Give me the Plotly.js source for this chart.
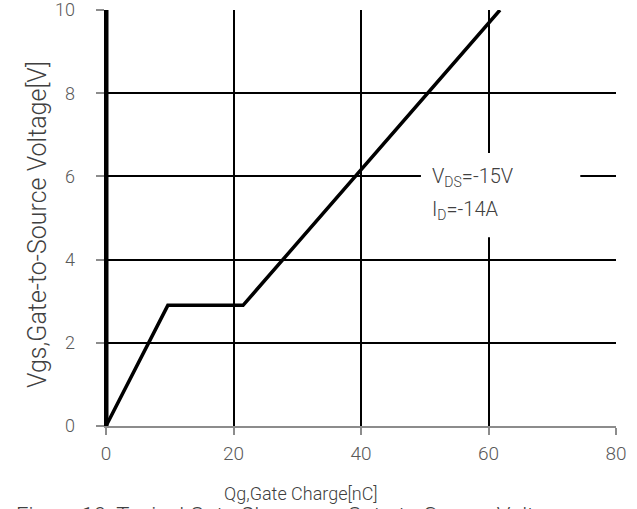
<!DOCTYPE html>
<html><head><meta charset="utf-8">
<script src="https://cdn.plot.ly/plotly-3.0.1.min.js"></script>
<style>html,body{margin:0;padding:0;background:#fff}#c{width:637px;height:509px}</style>
</head><body><div id="c"></div>
<script>
var qg = [0, 9.7, 21.5, 61.8];
var vgs = [0, 2.9, 2.9, 10];
var axisX = [0, 0];
var axisY = [0, 10];
var xTicks = [0, 20, 40, 60, 80];
var yTicks = [0, 2, 4, 6, 8, 10];

var traces = [
  {x: qg, y: vgs, mode: 'lines', line: {color: '#000', width: 3.5}, hoverinfo: 'none'},
  {x: axisX, y: axisY, mode: 'lines', line: {color: '#000', width: 5}, hoverinfo: 'none'}
];
var font = "Roboto, 'Open Sans', sans-serif";
var layout = {
  width: 637, height: 509,
  margin: {l: 106, r: 21, t: 10, b: 83},
  paper_bgcolor: '#fff', plot_bgcolor: '#fff',
  showlegend: false,
  font: {family: font, color: '#595959', weight: 300},
  xaxis: {
    range: [0, 80], tickvals: xTicks, ticktext: xTicks.map(String),
    showgrid: true, gridcolor: '#000', gridwidth: 2,
    showline: true, linecolor: '#8c8c8c', linewidth: 2,
    ticks: 'outside', ticklen: 7, tickwidth: 2, tickcolor: '#8c8c8c',
    tickfont: {size: 19, color: '#595959', family: font, weight: 300}, zeroline: false,
    ticklabelstandoff: 2, ticklabeloverflow: 'allow'
  },
  yaxis: {
    range: [0, 10], tickvals: yTicks, ticktext: yTicks.map(String),
    showgrid: true, gridcolor: '#000', gridwidth: 2,
    showline: true, linecolor: '#000', linewidth: 2.5, zeroline: false,
    ticks: 'outside', ticklen: 8, tickwidth: 2, tickcolor: '#8c8c8c',
    tickfont: {size: 18, color: '#595959', family: font, weight: 300},
    ticklabelstandoff: 17, ticklabeloverflow: 'allow'
  },
  shapes: [
    {type: 'rect', xref: 'x', yref: 'y', x0: 49.4, x1: 74.4, y0: 4.54, y1: 6.56, fillcolor: '#fff', line: {width: 0}, layer: 'above'}
  ],
  annotations: [
    {xref: 'x', yref: 'y', x: 50.8, y: 5.98, xanchor: 'left', yanchor: 'middle', align: 'left', showarrow: false,
     text: 'V<sub>DS</sub>=-15V', font: {size: 20, color: '#404040', family: font, weight: 300}},
    {xref: 'x', yref: 'y', x: 50.8, y: 5.2, xanchor: 'left', yanchor: 'middle', align: 'left', showarrow: false,
     text: 'I<sub>D</sub>=-14A', font: {size: 20, color: '#404040', family: font, weight: 300}},
    {xref: 'paper', yref: 'paper', x: (301 - 106) / 510, y: -0.163, xanchor: 'center', yanchor: 'middle', showarrow: false,
     text: 'Qg,Gate Charge[nC]', font: {size: 18, color: '#404040', family: font, weight: 300}},
    {xref: 'paper', yref: 'paper', x: -0.134, y: 0.485, xanchor: 'center', yanchor: 'middle', showarrow: false, textangle: -90,
     text: 'Vgs,Gate-to-Source Voltage[V]', font: {size: 25, color: '#404040', family: font, weight: 300}},
    {xref: 'paper', yref: 'paper', x: -0.18, y: -0.181, xanchor: 'left', yanchor: 'top', showarrow: false,
     text: 'Figure 10. Typical Gate Charge vs. Gate-to-Source Voltage', font: {size: 22, color: '#404040', family: font, weight: 300}}
  ]
};
Plotly.newPlot('c', traces, layout, {staticPlot: true, displayModeBar: false});
</script></body></html>
